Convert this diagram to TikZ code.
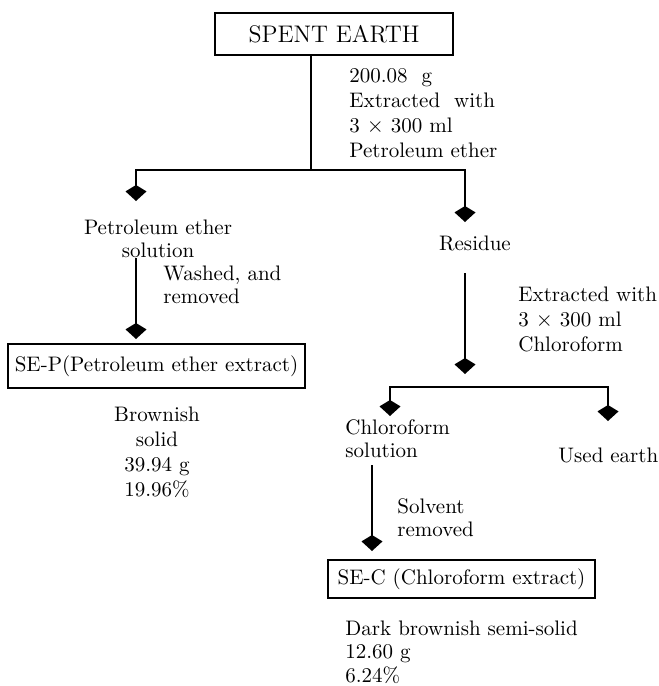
\documentclass[tikz,border=0pt]{standalone}
\usepackage{amsmath}
\usepackage{tikz}
\usetikzlibrary{arrows.meta, positioning, calc}

\begin{document}
\begin{tikzpicture}[
    x=0.5pt, y=-0.5pt,
    every node/.style={inner sep=0pt, font=\fontsize{10.5}{11.5}\selectfont},
    box/.style={draw, line width=1pt},
    note/.style={align=left, anchor=west},
    wide/.style={font=\fontsize{10.5}{12.5}\selectfont},
    arr/.style={line width=1pt, -{Kite[length=8pt, width=10.5pt, inset=3.2pt]}},
    link/.style={line width=1pt}
  ]
  \useasboundingbox (0,0) rectangle (659,686);

  % boxes
  \node[box, minimum width=119pt, minimum height=21pt,
        font=\fontsize{12}{14}\selectfont] (spent) at (334,34) {SPENT EARTH};
  \node[box, minimum width=148.5pt, minimum height=22pt] (sep) at (156.5,366)
    {SE-P(Petroleum ether extract)};
  \node[box, minimum width=133.5pt, minimum height=19pt] (sec) at (461.5,579)
    {SE-C (Chloroform extract)};

  % products and notes
  \node[note, wide] (ann1) at (349,113)
    {200.08~ g\\Extracted~ with\\3 $\times$ 300 ml\\Petroleum ether};
  \node[align=center] (petsol) at (158,239) {Petroleum ether\\solution};
  \node (residue) at (475,243) {Residue};
  \node[note] (wash) at (163,285) {Washed, and\\removed};
  \node[align=center, wide] (brown) at (157,452)
    {Brownish\\solid\\39.94 g\\19.96\%};
  \node[note, wide] (ann2) at (518,319)
    {Extracted with\\3 $\times$ 300 ml\\Chloroform};
  \node[note] (chlsol) at (345,439) {Chloroform\\solution};
  \node[note] (used) at (558,455) {Used earth};
  \node[note] (solv) at (397,518) {Solvent\\removed};
  \node[note, font=\fontsize{10.5}{11.8}\selectfont] (dark) at (345,652)
    {Dark brownish semi-solid\\12.60 g\\6.24\%};

  % split points and arrow ends
  \coordinate (s1) at (311,170);
  \coordinate (t1) at (136,201);
  \coordinate (t2) at (465,222);
  \coordinate (r1) at (465,273);
  \coordinate (r2) at (465,374);
  \coordinate (s2) at (465,387);
  \coordinate (t3) at (390,416);
  \coordinate (t4) at (608,421);
  \coordinate (c1) at (372,465);
  \coordinate (c2) at (372,551);

  \draw[link] (spent.south -| s1) -- (s1);
  \draw[arr] (s1) -| (t1);
  \draw[arr] (s1) -| (t2);
  \draw[arr] (petsol.south -| t1) -- ([yshift=2pt]sep.north -| t1);
  \draw[arr] (r1) -- (r2);
  \draw[arr] (s2) -| (t3);
  \draw[arr] (s2) -| (t4);
  \draw[arr] (c1) -- (c2);
\end{tikzpicture}
\end{document}
